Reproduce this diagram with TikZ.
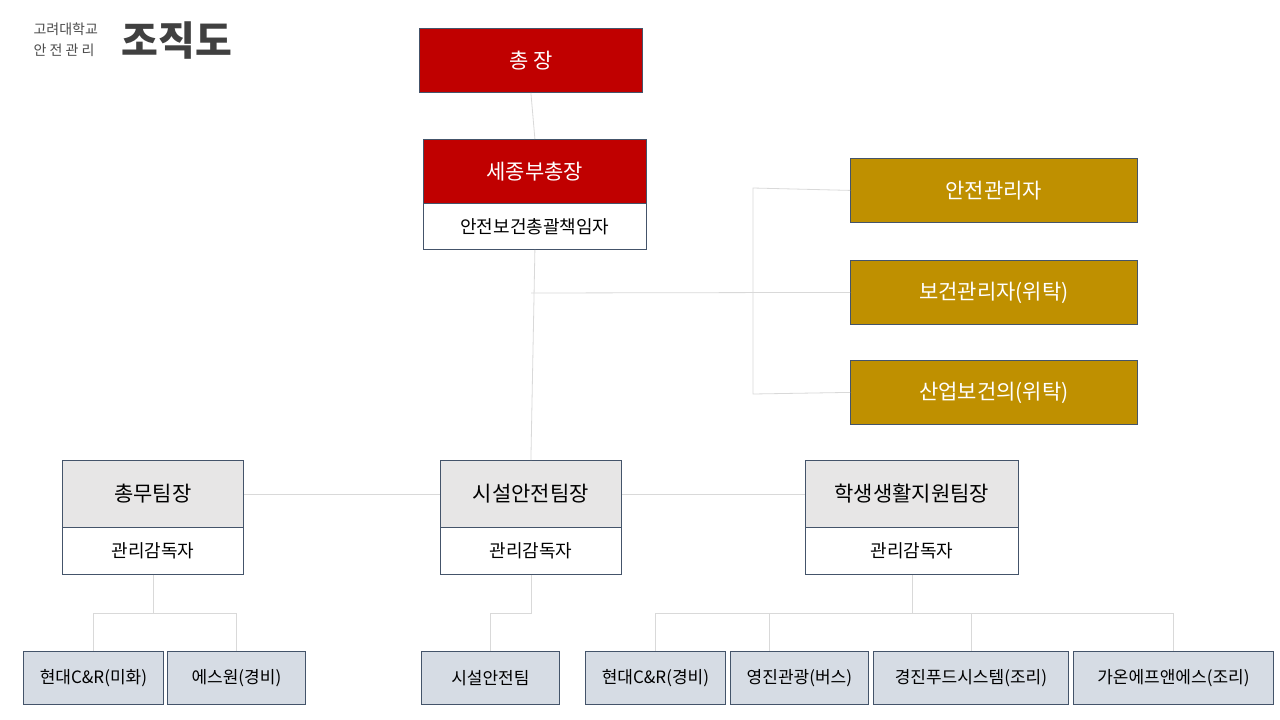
\documentclass[tikz,border=0pt]{standalone}
\usepackage{fontspec}
\setmainfont{Noto Sans CJK KR}
\definecolor{kred}{HTML}{C00000}
\definecolor{kgold}{HTML}{BF9000}
\definecolor{kgray}{HTML}{E7E6E6}
\definecolor{kblue}{HTML}{D6DCE4}
\definecolor{kbord}{HTML}{44546A}
\definecolor{kline}{HTML}{D9D9D9}
\begin{document}
\begin{tikzpicture}[x=1pt,y=-1pt,
 bx/.style={draw=kbord,line width=0.8pt,inner sep=0pt,anchor=north west},
 redb/.style={bx,fill=kred,text=white,font=\fontsize{21}{24}\selectfont},
 goldb/.style={bx,fill=kgold,text=white,font=\fontsize{21}{24}\selectfont},
 grayb/.style={bx,fill=kgray,font=\fontsize{21}{24}\selectfont},
 whb/.style={bx,fill=white,font=\fontsize{18}{22}\selectfont},
 blub/.style={bx,fill=kblue,font=\fontsize{17}{20}\selectfont},
 ln/.style={draw=kline,line width=0.8pt}]
\useasboundingbox[fill=white] (0,0) rectangle (1280,720);
% logo
\node[anchor=west,text=black!70,font=\fontsize{14}{16}\selectfont] (l1) at (30,29) {고려대학교};
\node[anchor=west,text=black!70,font=\fontsize{14}{16}\selectfont] (l2) at (30,50) {안 전 관 리};
\node[anchor=west,text=black!75,font=\bfseries\fontsize{40}{44}\selectfont] (l3) at (118,41) {조직도};
% lines
\coordinate (c1) at (531,293);
\coordinate (b1) at (753,188);
\coordinate (b2) at (753,394);
\node[redb,minimum width=223pt,minimum height=64pt] (ch) at (419,28) {총 장};
\node[redb,minimum width=223pt,minimum height=64pt] (vp) at (423,139) {세종부총장};
\node[whb,minimum width=223pt,minimum height=46pt] (vps) at (423,203) {안전보건총괄책임자};
\node[goldb,minimum width=287pt,minimum height=64pt] (g1) at (850,158) {안전관리자};
\node[goldb,minimum width=287pt,minimum height=64pt] (g2) at (850,260) {보건관리자(위탁)};
\node[goldb,minimum width=287pt,minimum height=64pt] (g3) at (850,360) {산업보건의(위탁)};
\node[grayb,minimum width=181pt,minimum height=67pt] (t1) at (62,460) {총무팀장};
\node[whb,minimum width=181pt,minimum height=47pt] (s1) at (62,527) {관리감독자};
\node[grayb,minimum width=181pt,minimum height=67pt] (t2) at (440,460) {시설안전팀장};
\node[whb,minimum width=181pt,minimum height=47pt] (s2) at (440,527) {관리감독자};
\node[grayb,minimum width=213pt,minimum height=67pt] (t3) at (805,460) {학생생활지원팀장};
\node[whb,minimum width=213pt,minimum height=47pt] (s3) at (805,527) {관리감독자};
\node[blub,minimum width=140pt,minimum height=53pt] (d1) at (23,651) {현대C\&R(미화)};
\node[blub,minimum width=138pt,minimum height=53pt] (d2) at (167,651) {에스원(경비)};
\node[blub,minimum width=138pt,minimum height=53pt] (d3) at (421,651) {시설안전팀};
\node[blub,minimum width=140pt,minimum height=53pt] (d4) at (585,651) {현대C\&R(경비)};
\node[blub,minimum width=138pt,minimum height=53pt] (d5) at (730,651) {영진관광(버스)};
\node[blub,minimum width=195pt,minimum height=53pt] (d6) at (873,651) {경진푸드시스템(조리)};
\node[blub,minimum width=200pt,minimum height=53pt] (d7) at (1073,651) {가온에프앤에스(조리)};
\begin{scope}[on background layer/.style={}]
\end{scope}
\draw[ln] (ch.south) -- (vp.north);
\draw[ln] (vps.south) -- (t2.north);
\draw[ln] (c1) -- (g2.west);
\draw[ln] (g1.west) -- (b1) -- (b2) -- (g3.west);
\draw[ln] (t1.east) -- (t2.west);
\draw[ln] (t2.east) -- (t3.west);
\draw[ln] (s1.south) -- ++(0,39) -| (d1.north);
\draw[ln] (s1.south) ++(0,39) -| (d2.north);
\draw[ln] (s2.south) -- ++(0,39) -| (d3.north);
\draw[ln] (s3.south) -- ++(0,39) -| (d4.north);
\draw[ln] (s3.south) ++(0,39) -| ([xshift=-30pt]d5.north);
\draw[ln] (s3.south) ++(0,39) -| (d6.north);
\draw[ln] (s3.south) ++(0,39) -| (d7.north);
\end{tikzpicture}
\end{document}
